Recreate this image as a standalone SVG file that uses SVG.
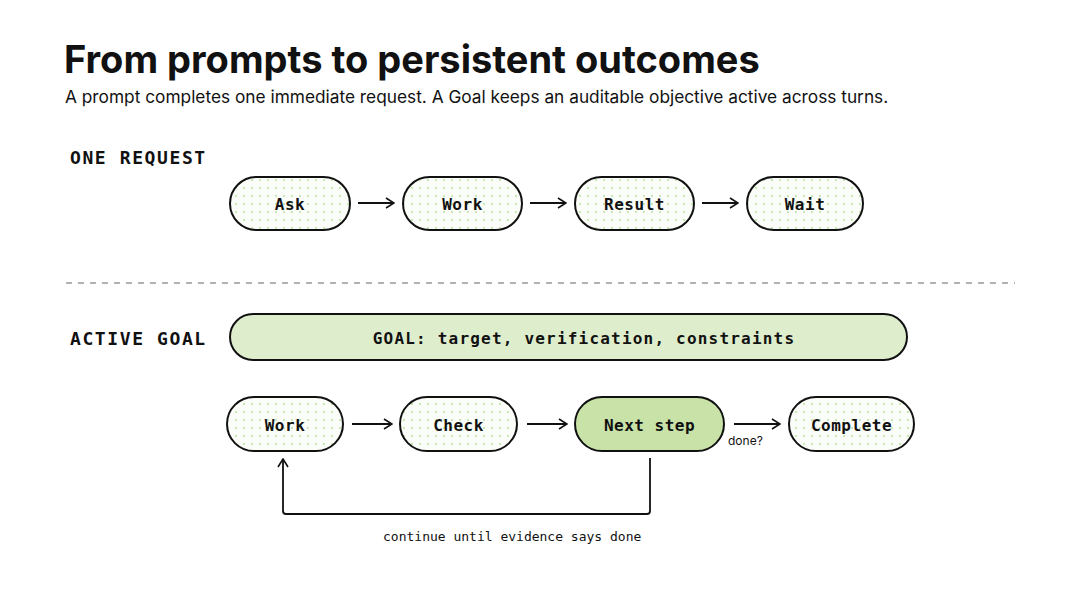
<svg xmlns="http://www.w3.org/2000/svg" width="1080" height="608" viewBox="0 0 1080 608">
<defs>
<pattern id="dots" width="8" height="8" patternUnits="userSpaceOnUse">
<rect width="8" height="8" fill="#fbfdf8"/>
<circle cx="4" cy="4" r="0.9" fill="#b5dc9c"/>
</pattern>
<marker id="arr" viewBox="0 0 12 12" refX="11" refY="6" markerWidth="12" markerHeight="12" markerUnits="userSpaceOnUse" orient="auto">
<path d="M3,1 L11,6 L3,11" fill="none" stroke="#111" stroke-width="1.6"/>
</marker>
</defs>
<style>
.title{font-family:Inter,"Noto Sans",sans-serif;font-weight:700;font-size:38px;fill:#111}
.sub{font-family:Inter,"Noto Sans",sans-serif;font-size:17.3px;fill:#111}
.sec{font-family:"DejaVu Sans Mono","Liberation Mono",monospace;font-weight:700;font-size:18px;letter-spacing:1.6px;fill:#111}
.pill{fill:url(#dots);stroke:#111;stroke-width:2}
.green{fill:#c8e2a8;stroke:#111;stroke-width:2}
.goal{fill:#deedcc;stroke:#111;stroke-width:2}
.lbl{font-family:"DejaVu Sans Mono","Liberation Mono",monospace;font-weight:700;font-size:16px;letter-spacing:0.5px;fill:#111;text-anchor:middle;dominant-baseline:central}
.edge{fill:none;stroke:#111;stroke-width:1.8;marker-end:url(#arr)}
.small{font-family:Inter,"Noto Sans",sans-serif;font-size:12px;fill:#111}
.mono{font-family:"DejaVu Sans Mono","Liberation Mono",monospace;font-size:13px;fill:#111}
</style>
<rect width="1080" height="608" fill="#ffffff"/>
<text class="title" x="64" y="73">From prompts to persistent outcomes</text>
<text class="sub" x="65" y="103">A prompt completes one immediate request. A Goal keeps an auditable objective active across turns.</text>
<text class="sec" x="70" y="164">ONE REQUEST</text>
<text class="sec" x="70" y="345">ACTIVE GOAL</text>
<line x1="66" y1="283" x2="1015" y2="283" stroke="#9a9a9a" stroke-width="1.5" stroke-dasharray="6 6"/>

<g id="ask"><rect class="pill" x="230" y="177" width="120" height="53" rx="26.5"/><text class="lbl" x="290" y="204">Ask</text></g>
<g id="work1"><rect class="pill" x="403" y="177" width="119" height="53" rx="26.5"/><text class="lbl" x="462.5" y="204">Work</text></g>
<g id="result"><rect class="pill" x="575" y="177" width="119" height="53" rx="26.5"/><text class="lbl" x="634.5" y="204">Result</text></g>
<g id="wait"><rect class="pill" x="747" y="177" width="116" height="53" rx="26.5"/><text class="lbl" x="805" y="204">Wait</text></g>

<g id="goal"><rect class="goal" x="230" y="314" width="677" height="46" rx="23"/><text class="lbl" x="584" y="338" style="letter-spacing:1.2px">GOAL: target, verification, constraints</text></g>

<g id="work2"><rect class="pill" x="227" y="397" width="116" height="54" rx="27"/><text class="lbl" x="285" y="425">Work</text></g>
<g id="check"><rect class="pill" x="400" y="397" width="117" height="54" rx="27"/><text class="lbl" x="458.5" y="425">Check</text></g>
<g id="next"><rect class="green" x="575" y="397" width="149" height="54" rx="27"/><text class="lbl" x="649.5" y="425">Next step</text></g>
<g id="complete"><rect class="pill" x="789" y="397" width="125" height="54" rx="27"/><text class="lbl" x="851.5" y="425">Complete</text></g>

<g id="connectors">
<line class="edge" x1="358" y1="203" x2="394" y2="203"/>
<line class="edge" x1="530" y1="203" x2="566" y2="203"/>
<line class="edge" x1="702" y1="203" x2="738" y2="203"/>
<line class="edge" x1="352" y1="424" x2="392" y2="424"/>
<line class="edge" x1="527" y1="424" x2="567" y2="424"/>
<line class="edge" x1="734" y1="424" x2="780" y2="424"/>
<path class="edge" d="M650,458 L650,511 Q650,514 647,514 L286,514 Q283,514 283,511 L283,459"/>
<text class="small" x="728" y="445">done?</text>
<text class="mono" x="383" y="541">continue until evidence says done</text>
</g>
</svg>
